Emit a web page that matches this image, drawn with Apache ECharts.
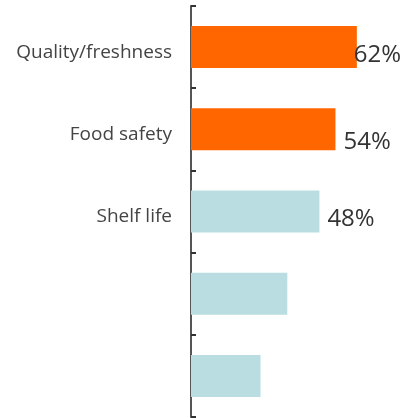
<!DOCTYPE html>
<html>
<head>
<meta charset="utf-8">
<script src="https://cdn.jsdelivr.net/npm/echarts@6/dist/echarts.min.js"></script>
<style>
  html, body { margin: 0; padding: 0; background: #fff; }
  #chart { width: 408px; height: 418px; }
</style>
</head>
<body>
<div id="chart"></div>
<script>
// Purchase drivers, share of respondents (%)
const categories = ['Quality/freshness', 'Food safety', 'Shelf life', '', ''];
const values = [62, 54, 48, 36, 26];
// Which bars carry a printed value
const showValue = [true, true, true, false, false];
const highlightCount = 2;

const ORANGE = '#FF6600';
const PALE = '#B9DDE1';
// per-bar nudge of the value text, [dx, dy]
const labelNudge = [[-8, 8], [3, 13], [3, 8], [0, 0], [0, 0]];

const chart = echarts.init(document.getElementById('chart'), null, { renderer: 'canvas' });

chart.setOption({
  animation: false,
  grid: { left: 191, right: 3, top: 6, bottom: 1, containLabel: false },
  xAxis: {
    type: 'value', min: 0, max: 80,
    show: false
  },
  yAxis: {
    type: 'category',
    inverse: true,
    data: categories,
    axisLine: { show: true, lineStyle: { color: '#555', width: 2 } },
    axisTick: { show: true, inside: true, length: 5, lineStyle: { color: '#333', width: 2 } },
    axisLabel: {
      margin: 19,
      formatter: (name) => name ? '{t|' + name + '}' : '',
      rich: {
        t: {
          fontFamily: 'Open Sans',
          fontSize: 19,
          color: '#444',
          padding: [10, 0, 0, 0]
        }
      }
    }
  },
  series: [{
    type: 'bar',
    barWidth: 42,
    data: values.map((v, i) => ({
      value: v,
      itemStyle: { color: i < highlightCount ? ORANGE : PALE },
      label: {
        show: showValue[i],
        position: 'right',
        distance: 5,
        offset: labelNudge[i],
        formatter: '{c}%',
        fontFamily: 'Open Sans',
        fontSize: 24,
        color: '#333'
      }
    }))
  }]
});
</script>
</body>
</html>
